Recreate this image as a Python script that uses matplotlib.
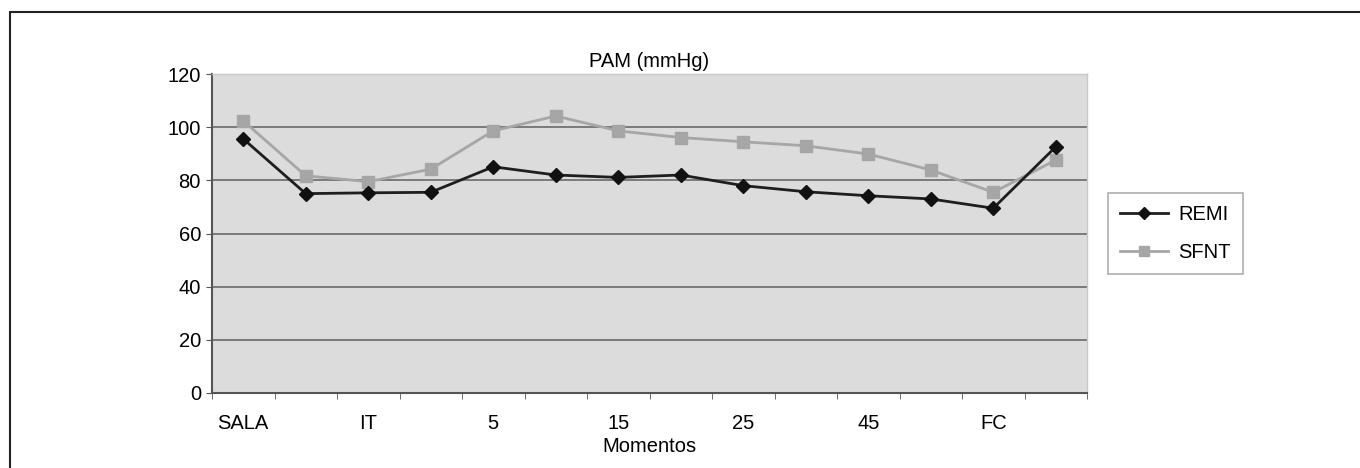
import matplotlib
matplotlib.use("Agg")
import matplotlib.pyplot as plt
from matplotlib.patches import Rectangle
import numpy as np

plt.rcParams['font.family'] = ['Liberation Sans', 'DejaVu Sans']

categories = ["SALA", "", "IT", "", "5", "", "15", "", "25", "", "45", "", "FC", ""]
remi = [95.6, 75, 75.3, 75.5, 85.1, 82, 81.1, 82, 78, 75.7, 74.2, 73, 69.5, 92.6]
sfnt = [102.4, 81.7, 79.5, 84.2, 98.6, 104.2, 98.6, 96.1, 94.5, 93, 89.9, 83.9, 75.5, 87.6]
title = "PAM (mmHg)"
xlabel = "Momentos"

FS = 14.5

fig = plt.figure(figsize=(13.6, 4.68), dpi=100)
ax = fig.add_axes([212/1360, 1-393/468, (1087-212)/1360, (393-74)/468])

# outer border
fig.patches.append(Rectangle((10/1360, -0.1), 1.2, 1-12/468+0.1, transform=fig.transFigure,
                             fill=False, edgecolor='#222222', linewidth=1.5))

x = np.arange(len(categories))
ax.set_facecolor('#dcdcdc')
ax.plot(x, remi, color='#1e1e1e', lw=2, marker='D', ms=7, mfc='#111111', mec='#111111',
        label='REMI', zorder=4)
ax.plot(x, sfnt, color='#a6a6a6', lw=2, marker='s', ms=9, mfc='#a6a6a6', mec='#a6a6a6',
        label='SFNT', zorder=3)

ax.set_ylim(0, 120)
ax.set_yticks(range(0, 121, 20))
ax.yaxis.grid(True, color='#7a7a7a', lw=1.4)
ax.set_axisbelow(True)
ax.set_xlim(-0.5, len(categories) - 0.5)
ax.set_xticks(x)
ax.set_xticklabels(categories)
ax.set_xticks(np.arange(-0.5, len(categories), 1), minor=True)
ax.tick_params(axis='x', which='major', length=0, pad=15, labelsize=FS)
ax.tick_params(axis='x', which='minor', length=4, color='#555555', direction='out')
ax.tick_params(axis='y', length=4, color='#555555', labelsize=FS, pad=4)

for s in ['top', 'right']:
    ax.spines[s].set_color('#c8c8c8')
    ax.spines[s].set_linewidth(1)
for s in ['left', 'bottom']:
    ax.spines[s].set_color('#555555')
    ax.spines[s].set_linewidth(1.5)

ax.set_title(title, fontsize=FS, pad=5)
ax.set_xlabel(xlabel, fontsize=FS, labelpad=3)

leg = ax.legend(loc='center left', bbox_to_anchor=((1098-212)/875, 0.5),
                frameon=True, fancybox=False, fontsize=FS, handlelength=2.4,
                labelspacing=0.9, borderpad=0.6, handletextpad=0.5, markerscale=0.85)
leg.get_frame().set_edgecolor('#9a9a9a')
leg.get_frame().set_linewidth(1.2)

fig.savefig("out.png", dpi=100, facecolor='white')
